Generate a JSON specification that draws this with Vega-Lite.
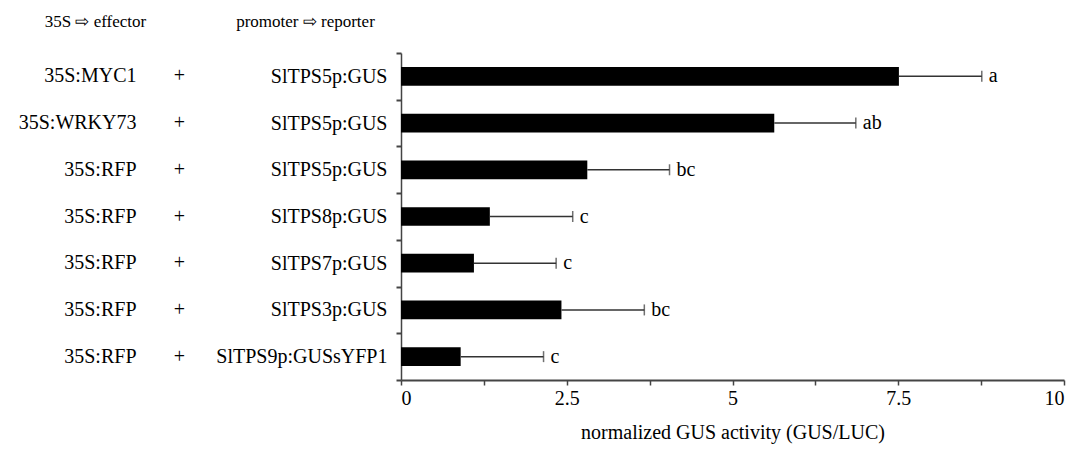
{
  "$schema": "https://vega.github.io/schema/vega-lite/v6.json",
  "width": 663,
  "height": 327,
  "padding": {"left": 18, "top": 12, "right": 10, "bottom": 5},
  "background": "white",
  "config": {
    "font": "Liberation Serif",
    "view": {"stroke": null},
    "axis": {"labelFont": "Liberation Serif", "titleFont": "Liberation Serif", "labelColor": "#000", "titleColor": "#000", "titleFontWeight": "normal", "grid": false}
  },
  "data": {
    "values": [
      {"construct": "35S:MYC1 + SlTPS5p:GUS", "mean": 7.51, "upper": 8.76, "group": "a"},
      {"construct": "35S:WRKY73 + SlTPS5p:GUS", "mean": 5.63, "upper": 6.86, "group": "ab"},
      {"construct": "35S:RFP + SlTPS5p:GUS", "mean": 2.81, "upper": 4.05, "group": "bc"},
      {"construct": "35S:RFP + SlTPS8p:GUS", "mean": 1.34, "upper": 2.59, "group": "c"},
      {"construct": "35S:RFP + SlTPS7p:GUS", "mean": 1.10, "upper": 2.34, "group": "c"},
      {"construct": "35S:RFP + SlTPS3p:GUS", "mean": 2.42, "upper": 3.67, "group": "bc"},
      {"construct": "35S:RFP + SlTPS9p:GUSsYFP1", "mean": 0.90, "upper": 2.15, "group": "c"}
    ]
  },
  "resolve": {"scale": {"y": "independent"}, "axis": {"y": "independent"}},
  "layer": [
    {
      "mark": {"type": "bar", "color": "#000", "height": {"band": 0.4}},
      "encoding": {
        "y": {
          "field": "construct", "type": "nominal", "sort": null,
          "scale": {"paddingInner": 0, "paddingOuter": 0},
          "axis": {
            "orient": "left",
            "labelExpr": "split(datum.label, ' + ')[1]",
            "labelFontSize": 20, "labelPadding": 9,
            "ticks": true, "tickSize": 5, "tickWidth": 2, "tickBand": "extent",
            "tickColor": "#444", "domain": true, "domainColor": "#444", "domainWidth": 1.5, "labelLimit": 300,
            "title": "promoter ⇨ reporter", "titleAngle": 0, "titleAlign": "center", "titleBaseline": "middle",
            "titleX": -96, "titleY": -32, "titleFontSize": 17
          }
        },
        "x": {
          "field": "mean", "type": "quantitative",
          "scale": {"domain": [0, 10], "nice": false},
          "axis": {
            "values": [0, 1.25, 2.5, 3.75, 5, 6.25, 7.5, 8.75, 10],
            "labelExpr": "datum.value % 2.5 === 0 ? format(datum.value, '~g') : ''",
            "labelFontSize": 20, "labelPadding": 3,
            "ticks": true, "tickSize": 5, "tickWidth": 1.5, "tickColor": "#444",
            "domain": true, "domainColor": "#444", "domainWidth": 2,
            "title": "normalized GUS activity (GUS/LUC)", "titleFontSize": 20, "titlePadding": 14
          }
        }
      }
    },
    {
      "mark": {"type": "rule", "color": "#333", "strokeWidth": 1.5},
      "encoding": {
        "y": {
          "field": "construct", "type": "nominal", "sort": null,
          "scale": {"paddingInner": 0, "paddingOuter": 0},
          "axis": {
            "orient": "left", "offset": 265,
            "labelExpr": "split(datum.label, ' + ')[0]",
            "labelFontSize": 20, "labelPadding": 0, "tickSize": 0, "ticks": false, "domain": false, "labelLimit": 300,
            "title": "35S ⇨ effector", "titleAngle": 0, "titleAlign": "center", "titleBaseline": "middle",
            "titleX": -41, "titleY": -32, "titleFontSize": 17
          }
        },
        "x": {"field": "mean", "type": "quantitative"},
        "x2": {"field": "upper"}
      }
    },
    {
      "mark": {"type": "tick", "color": "#333", "orient": "vertical", "size": 11, "thickness": 1.5},
      "encoding": {
        "y": {
          "field": "construct", "type": "nominal", "sort": null,
          "scale": {"paddingInner": 0, "paddingOuter": 0},
          "axis": {
            "orient": "left", "offset": 222,
            "labelExpr": "'+'", "labelAlign": "center",
            "labelFontSize": 20, "labelPadding": 0, "tickSize": 0, "ticks": false, "domain": false, "title": null
          }
        },
        "x": {"field": "upper", "type": "quantitative"}
      }
    },
    {
      "mark": {"type": "text", "align": "left", "baseline": "middle", "dx": 7, "fontSize": 20, "color": "#000"},
      "encoding": {
        "y": {
          "field": "construct", "type": "nominal", "sort": null,
          "scale": {"paddingInner": 0, "paddingOuter": 0},
          "axis": null
        },
        "x": {"field": "upper", "type": "quantitative"},
        "text": {"field": "group"}
      }
    }
  ]
}
